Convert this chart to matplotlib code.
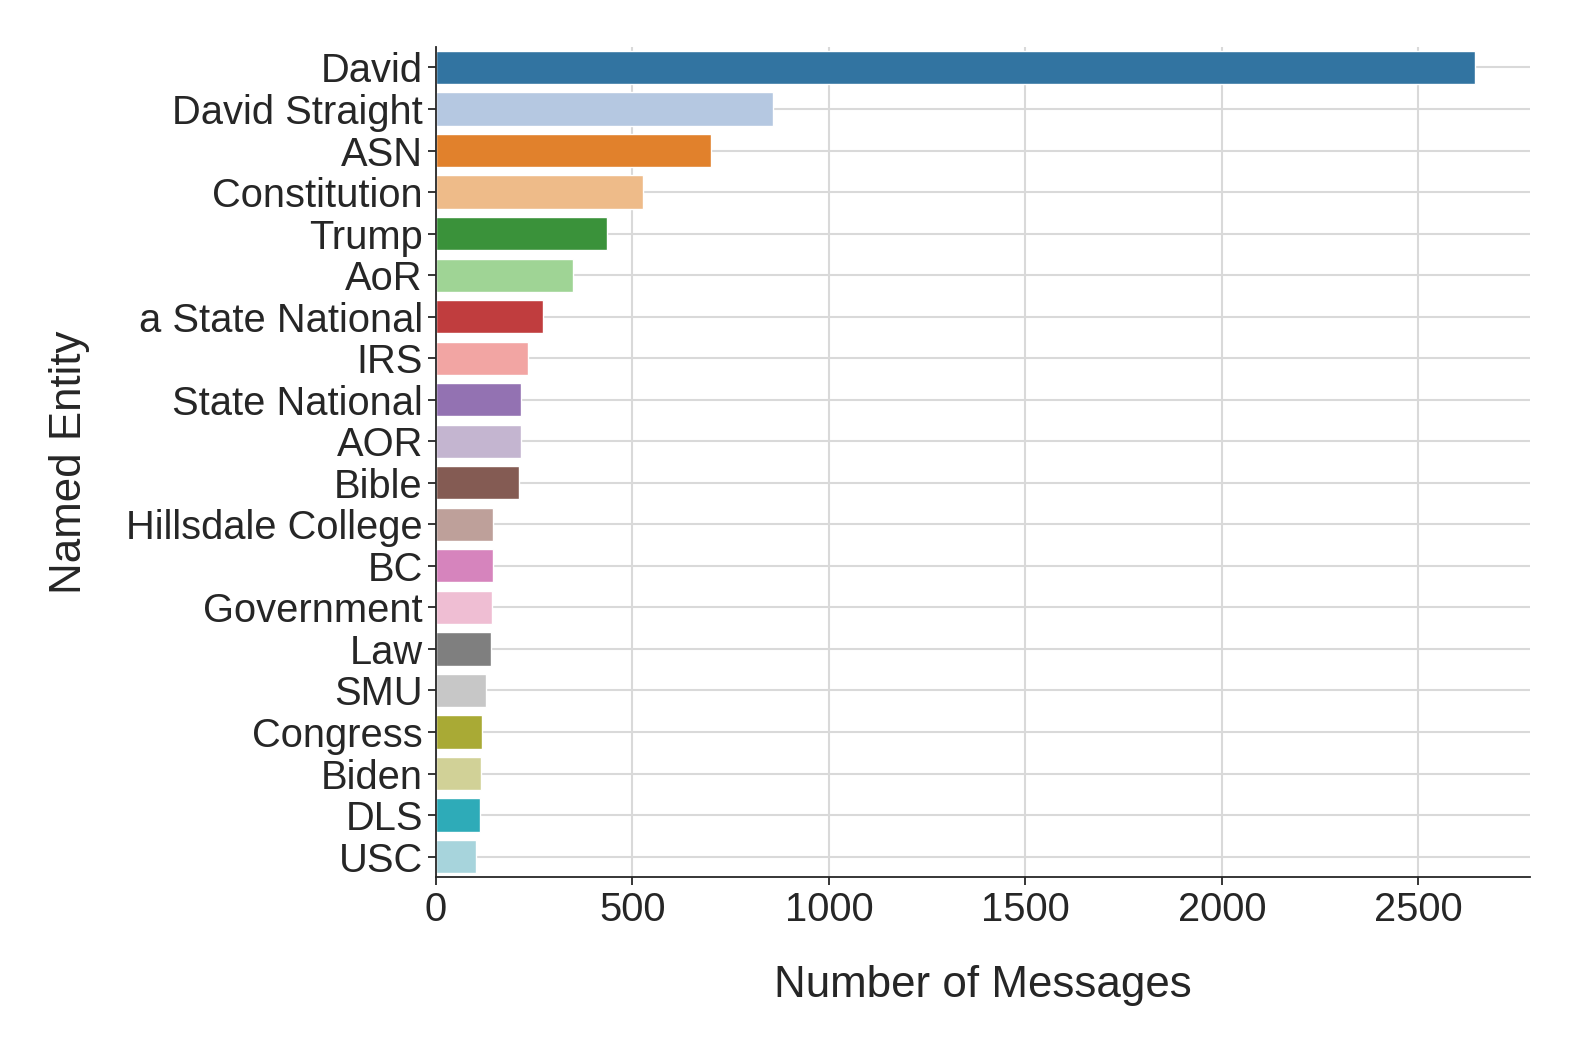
import matplotlib
matplotlib.use('Agg')
import matplotlib.pyplot as plt
import seaborn as sns
import pandas as pd

# data
entities = ['David', 'David Straight', 'ASN', 'Constitution', 'Trump', 'AoR',
            'a State National', 'IRS', 'State National', 'AOR', 'Bible',
            'Hillsdale College', 'BC', 'Government', 'Law', 'SMU', 'Congress',
            'Biden', 'DLS', 'USC']
messages = [2645, 858, 700, 526, 434, 349, 273, 233, 217, 216, 210,
            145, 144, 143, 140, 126, 116, 115, 112, 101]

df = pd.DataFrame({'entity': entities, 'count': messages})

sns.set_style('ticks', {'axes.grid': True, 'grid.color': '#d9d9d9'})
plt.rcParams['font.family'] = ['Liberation Sans', 'DejaVu Sans']

fig = plt.figure(figsize=(15.78, 10.52), dpi=100)
ax = fig.add_axes([0.2763, 0.166, 0.6935, 0.7896])

sns.barplot(data=df, x='count', y='entity', hue='entity', palette='tab20',
            legend=False, ax=ax, edgecolor='white', linewidth=1, zorder=2)
ax.set_axisbelow(True)
ax.grid(True, color='#d9d9d9', linewidth=1.5)

ax.set_xlim(0, 2785)
ax.set_xticks([0, 500, 1000, 1500, 2000, 2500])
ax.set_xlabel('Number of Messages', fontsize=31.6, labelpad=26, color='#262626')
ax.set_ylabel('Named Entity', fontsize=31.6, labelpad=26, color='#262626')
ax.tick_params(axis='both', labelsize=28.7, length=6, width=1.3, colors='#262626')
for s in ['left', 'bottom']:
    ax.spines[s].set_linewidth(1.3)
    ax.spines[s].set_color('#262626')
sns.despine(ax=ax)

fig.savefig('out.png', dpi=100)
